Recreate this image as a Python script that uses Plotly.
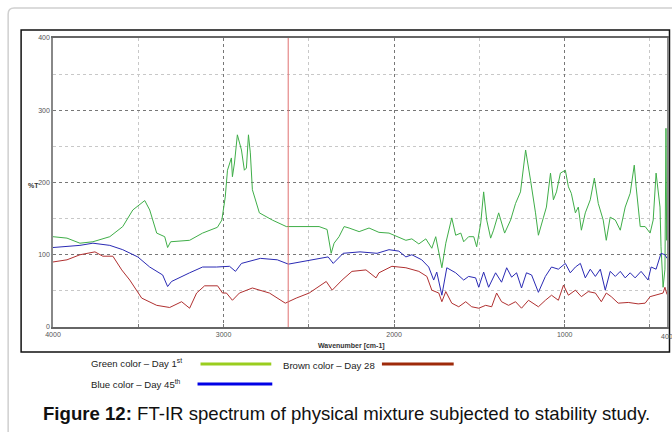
import plotly.graph_objects as go

# ---------------- data ----------------
green_w = [4000, 3918, 3842, 3766, 3667, 3591, 3532, 3462, 3433, 3392, 3345, 3328, 3310, 3199, 3123, 3036,
           3010, 2990, 2977, 2954, 2948, 2936, 2919, 2895, 2878, 2866, 2854, 2843, 2831, 2790, 2714, 2632,
           2440, 2393, 2369, 2352, 2323, 2293, 2264, 2205, 2147, 2089, 2030, 1931, 1896, 1855, 1814, 1779,
           1756, 1738, 1720, 1697, 1662, 1639, 1609, 1592, 1563, 1533, 1516, 1492, 1475, 1457, 1434, 1417,
           1387, 1352, 1317, 1288, 1259, 1229, 1212, 1200, 1171, 1154, 1124, 1107, 1083, 1066, 1048, 1025,
           996, 978, 961, 937, 920, 902, 879, 850, 826, 803, 774, 756, 733, 703, 674, 645, 616, 592, 581,
           557, 528, 499, 481, 464, 441, 435, 423, 412, 406, 402, 400]
green_v = [125, 123, 116, 118, 125, 139, 162, 175, 162, 130, 125, 110, 118, 120, 130, 138,
           148, 180, 217, 234, 208, 227, 266, 245, 217, 220, 266, 241, 190, 158, 148, 139,
           139, 135, 102, 116, 125, 139, 137, 132, 137, 131, 130, 120, 122, 115, 122, 109,
           125, 102, 82, 116, 151, 127, 130, 118, 125, 125, 111, 144, 187, 148, 123, 134,
           158, 130, 148, 171, 187, 245, 222, 203, 158, 127, 152, 166, 213, 176, 187, 213,
           217, 194, 185, 158, 166, 134, 158, 176, 206, 171, 148, 120, 152, 148, 134, 166, 185, 224, 194,
           139, 139, 130, 148, 213, 166, 111, 55, 80, 275, 120, 140]

blue_w = [4000, 3842, 3766, 3667, 3591, 3503, 3433, 3357, 3328, 3305, 3199, 3123, 3041, 2965, 2930, 2895,
          2784, 2685, 2620, 2492, 2387, 2357, 2299, 2200, 2100, 2030, 1972, 1931, 1896, 1838, 1797, 1768,
          1750, 1720, 1691, 1639, 1592, 1563, 1522, 1504, 1475, 1446, 1405, 1370, 1340, 1311, 1282, 1253,
          1224, 1194, 1154, 1113, 1077, 1037, 996, 967, 937, 908, 879, 850, 820, 791, 762, 733, 703, 674,
          645, 616, 587, 552, 511, 493, 464, 435, 412, 400]
blue_v = [110, 113, 116, 113, 107, 97, 83, 72, 56, 63, 75, 83, 83, 84, 77, 88,
          95, 93, 87, 92, 97, 88, 102, 104, 102, 107, 105, 97, 100, 93, 83, 65,
          76, 44, 82, 75, 65, 70, 68, 55, 76, 55, 75, 62, 82, 69, 75, 54,
          75, 72, 48, 70, 83, 80, 88, 75, 83, 88, 68, 80, 70, 80, 51, 77, 70, 77,
          68, 75, 68, 77, 65, 83, 80, 102, 100, 95]

brown_w = [4000, 3918, 3842, 3754, 3708, 3649, 3597, 3550, 3480, 3433, 3392, 3316, 3246, 3199, 3158, 3111,
           3035, 3006, 2983, 2948, 2907, 2831, 2731, 2638, 2574, 2498, 2398, 2363, 2305, 2247, 2165, 2106,
           2089, 2013, 1931, 1855, 1808, 1779, 1738, 1720, 1697, 1662, 1621, 1580, 1545, 1504, 1463, 1428,
           1399, 1370, 1329, 1288, 1253, 1212, 1154, 1113, 1077, 1037, 1007, 978, 937, 902, 862, 820, 785,
           756, 727, 686, 627, 569, 528, 499, 464, 423, 412, 400]
brown_v = [90, 93, 100, 104, 98, 98, 79, 65, 40, 35, 30, 27, 35, 26, 47, 57,
           57, 47, 47, 37, 47, 54, 47, 33, 40, 47, 63, 51, 65, 77, 79, 68,
           75, 84, 82, 77, 70, 51, 47, 35, 49, 33, 28, 35, 28, 26, 30, 28,
           47, 35, 30, 35, 26, 37, 28, 37, 44, 37, 58, 44, 51, 42, 49, 47, 35,
           47, 42, 33, 34, 32, 33, 42, 44, 47, 55, 45]

marker_line_w = [2621]
x_tickvals = [4000, 3000, 2000, 1000]
x_ticktext = ["4000", "3000", "2000", "1000"]
x_end_label = "400"
y_tickvals = [0, 100, 200, 300, 400]
y_ticktext = ["0", "100", "200", "300", "400"]

legend_labels = ["Green color – Day 1<sup>st</sup>", "Brown color – Day 28", "Blue color – Day 45<sup>th</sup>"]
caption_bold = "Figure 12:"
caption_rest = " FT-IR spectrum of physical mixture subjected to stability study."

# ---------------- layout helpers (pixel -> paper) ----------------
W, H = 672, 432
L, R, T, B = 53, 3, 38, 105
PW, PH = W - L - R, H - T - B


def px(x):
    return (x - L) / PW


def py(y):
    return (H - B - y) / PH


fig = go.Figure()
fig.add_trace(go.Scatter(x=green_w, y=green_v, mode="lines", line=dict(color="#3fae48", width=1), showlegend=False))
fig.add_trace(go.Scatter(x=blue_w, y=blue_v, mode="lines", line=dict(color="#2a2ab4", width=1), showlegend=False))
fig.add_trace(go.Scatter(x=brown_w, y=brown_v, mode="lines", line=dict(color="#b03030", width=1), showlegend=False))

shapes = []
# outer light frame
shapes.append(dict(type="path", xref="paper", yref="paper",
                   path=f"M {px(8)},{py(440)} L {px(8)},{py(14)} Q {px(8)},{py(8)} {px(14)},{py(8)} L {px(680)},{py(8)}",
                   line=dict(color="#d0d0d0", width=1.5), layer="below"))
# inner black frame
shapes.append(dict(type="rect", xref="paper", yref="paper", x0=px(21), x1=px(671.5), y0=py(352), y1=py(30),
                   line=dict(color="#111", width=1.5), layer="below"))
# red marker line
shapes.append(dict(type="line", xref="x", yref="paper", x0=marker_line_w[0], x1=marker_line_w[0], y0=0, y1=1,
                   line=dict(color="#e07070", width=1)))
# legend swatches
shapes.append(dict(type="line", xref="paper", yref="paper", x0=px(201), x1=px(272), y0=py(364), y1=py(364),
                   line=dict(color="#9acd1e", width=3)))
shapes.append(dict(type="line", xref="paper", yref="paper", x0=px(383), x1=px(455), y0=py(364), y1=py(364),
                   line=dict(color="#9e2a0a", width=3)))
shapes.append(dict(type="line", xref="paper", yref="paper", x0=px(198), x1=px(273), y0=py(384), y1=py(384),
                   line=dict(color="#0000e6", width=3)))

ann_font = dict(family="Liberation Sans, Arial", size=9.6, color="#222")
tick_font = dict(family="Liberation Sans, Arial", size=7, color="#555")
annotations = [
    dict(text=legend_labels[0], x=px(89), y=py(363), xref="paper", yref="paper", xanchor="left", yanchor="middle",
         showarrow=False, font=ann_font),
    dict(text=legend_labels[1], x=px(282), y=py(365), xref="paper", yref="paper", xanchor="left", yanchor="middle",
         showarrow=False, font=ann_font),
    dict(text=legend_labels[2], x=px(89), y=py(384), xref="paper", yref="paper", xanchor="left", yanchor="middle",
         showarrow=False, font=ann_font),
    dict(text=f"<b>{caption_bold}</b>{caption_rest}", x=px(41), y=py(413), xref="paper", yref="paper",
         xanchor="left", yanchor="middle", showarrow=False,
         font=dict(family="Liberation Sans, Arial", size=18.6, color="#111")),
    dict(text="<b>%T</b>", x=px(33), y=py(185), xref="paper", yref="paper", xanchor="center", yanchor="middle",
         showarrow=False, font=dict(family="Liberation Sans, Arial", size=7, color="#333")),
    dict(text="<b>Wavenumber [cm-1]</b>", x=px(352), y=py(346), xref="paper", yref="paper", xanchor="center",
         yanchor="middle", showarrow=False, font=dict(family="Liberation Sans, Arial", size=7, color="#333")),
    dict(text=x_end_label, x=400, xref="x", y=py(336), yref="paper", xanchor="center", yanchor="middle",
         showarrow=False, font=tick_font),
]

fig.update_layout(
    width=W, height=H, autosize=False,
    margin=dict(l=L, r=R, t=T, b=B, pad=0),
    paper_bgcolor="white", plot_bgcolor="white",
    shapes=shapes, annotations=annotations,
    xaxis=dict(range=[4000, 400], tickvals=x_tickvals, ticktext=x_ticktext, tickfont=tick_font,
               showgrid=True, gridcolor="#777", griddash="dot", gridwidth=1,
               minor=dict(tickvals=[3500, 2500, 1500, 500], showgrid=True, gridcolor="#c8c8c8", griddash="dot",
                          ticks="inside", ticklen=3, tickcolor="#777"),
               ticks="inside", ticklen=3, tickcolor="#777",
               showline=True, linecolor="#666", linewidth=1.5, mirror=True, zeroline=False),
    yaxis=dict(range=[0, 400], tickvals=y_tickvals, ticktext=y_ticktext, tickfont=tick_font,
               showgrid=True, gridcolor="#777", griddash="dot", gridwidth=1,
               minor=dict(tickvals=[50, 150, 250, 350], showgrid=True, gridcolor="#c8c8c8", griddash="dot"),
               ticks="", showline=True, linecolor="#888", linewidth=1.5, mirror=True, zeroline=False),
)

fig.write_html("out.html")
